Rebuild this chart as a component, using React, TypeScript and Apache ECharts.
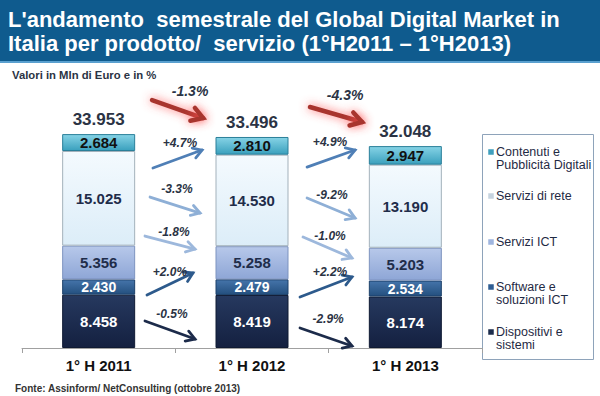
import React, { useEffect, useRef } from "react";
import * as echarts from "echarts";

const categories = ["1° H 2011", "1° H 2012", "1° H 2013"];
const dispositivi = [8458, 8419, 8174];
const software = [2430, 2479, 2534];
const serviziICT = [5356, 5258, 5203];
const serviziRete = [15025, 14530, 13190];
const contenuti = [2684, 2810, 2947];
const totals = [33953, 33496, 32048];

const seriesNames = [
  "Dispositivi e sistemi",
  "Software e soluzioni ICT",
  "Servizi ICT",
  "Servizi di rete",
  "Contenuti e Pubblicità Digitali",
];
const legendLabels = [
  "Contenuti e\nPubblicità Digitali",
  "Servizi di rete",
  "Servizi ICT",
  "Software e\nsoluzioni ICT",
  "Dispositivi e\nsistemi",
];

// growth arrows: label, start [x, value], end [x, value], label anchor [x, value]
const arrowLabels = ["-1.3%", "-4.3%", "+4.7%", "-3.3%", "-1.8%", "+2.0%", "-0.5%", "+4.9%", "-9.2%", "-1.0%", "+2.2%", "-2.9%"];
const arrowKinds = ["total", "total", "c", "r", "i", "s", "d", "c", "r", "i", "s", "d"];
const arrowStart = [
  [0.348, 39360], [1.378, 38250],
  [0.354, 28570], [0.335, 23960], [0.302, 17770], [0.315, 8410], [0.302, 4290],
  [1.359, 28720], [1.359, 23800], [1.333, 17620], [1.313, 8090], [1.313, 3170],
];
const arrowEnd = [
  [0.681, 36500], [1.718, 35870],
  [0.674, 31420], [0.661, 21420], [0.628, 15710], [0.615, 11900], [0.628, 1430],
  [1.672, 31420], [1.672, 20630], [1.652, 14280], [1.652, 11270], [1.652, 320],
];
const arrowLabelAt = [
  [0.596, 40790], [1.607, 40150],
  [0.53, 32530], [0.511, 25230], [0.491, 18410], [0.465, 12060], [0.478, 5400],
  [1.509, 32690], [1.522, 24280], [1.509, 17770], [1.509, 12060], [1.496, 4600],
];

const FONT = "Liberation Sans, Arial, sans-serif";

const fmt = (n: number) => String(n).replace(/\B(?=(\d{3})+(?!\d))/g, ".");

const segColors = [
  { top: "#26395f", bot: "#142040", border: "#0f1a33", label: "#ffffff", legend: "#1c2c4c" },
  { top: "#4574aa", bot: "#24507f", border: "#1d416a", label: "#ffffff", legend: "#2f5d93" },
  { top: "#b7c8ea", bot: "#8ea6d6", border: "#7d93bf", label: "#1f2d4a", legend: "#9fb5df" },
  { top: "#f4fafe", bot: "#dcedf8", border: "#a3b1bb", label: "#1f2d4a", legend: "#c6d3df" },
  { top: "#86d3e6", bot: "#3aa0bd", border: "#2a7f99", label: "#111111", legend: "#3f9fbd" },
];

const arrowStyle: Record<string, { color: string; width: number; glow: boolean }> = {
  total: { color: "#a8362f", width: 4.5, glow: true },
  c: { color: "#4f7fb6", width: 2.8, glow: false },
  r: { color: "#8eafd6", width: 2.8, glow: false },
  i: { color: "#9db8dc", width: 2.8, glow: false },
  s: { color: "#2d5a8c", width: 2.8, glow: false },
  d: { color: "#1c2b4a", width: 2.8, glow: false },
};

export default function App() {
  const ref = useRef<HTMLDivElement>(null);
  useEffect(() => {
    if (!ref.current) return;
    const chart = echarts.init(ref.current, undefined, { renderer: "svg" });
    const dataSets = [dispositivi, software, serviziICT, serviziRete, contenuti];

    const barSeries: any[] = dataSets.map((d, k) => ({
      name: seriesNames[k],
      type: "bar",
      stack: "tot",
      barWidth: 73,
      data: d,
      itemStyle: {
        color: new echarts.graphic.LinearGradient(0, 0, 0, 1, [
          { offset: 0, color: segColors[k].top },
          { offset: 1, color: segColors[k].bot },
        ]),
        borderColor: segColors[k].border,
        borderWidth: 1,
      },
      label: {
        show: true,
        position: "inside",
        formatter: (p: any) => fmt(p.value),
        color: segColors[k].label,
        fontFamily: FONT,
        fontWeight: "bold",
        fontSize: k === 1 ? 14 : 15,
      },
    }));

    barSeries.push({
      name: "Totale",
      type: "bar",
      stack: "tot",
      barWidth: 73,
      data: totals.map(() => 0),
      itemStyle: { color: "transparent" },
      label: {
        show: true,
        position: "top",
        distance: 6,
        formatter: (p: any) => fmt(totals[p.dataIndex]),
        color: "#2b3344",
        fontFamily: FONT,
        fontWeight: "bold",
        fontSize: 17,
      },
    });

    const arrowData = arrowLabels.map((_, i) => [
      arrowStart[i][0], arrowStart[i][1],
      arrowEnd[i][0], arrowEnd[i][1],
      arrowLabelAt[i][0], arrowLabelAt[i][1],
    ]);

    barSeries.push({
      type: "custom",
      xAxisIndex: 1,
      yAxisIndex: 0,
      clip: false,
      silent: true,
      encode: { x: [0, 2, 4], y: [1, 3, 5] },
      data: arrowData,
      renderItem: (params: any, api: any) => {
        const i = params.dataIndex;
        const st = arrowStyle[arrowKinds[i]];
        const p1 = api.coord([api.value(0), api.value(1)]);
        const p2 = api.coord([api.value(2), api.value(3)]);
        const pl = api.coord([api.value(4), api.value(5)]);
        const ang = Math.atan2(p2[1] - p1[1], p2[0] - p1[0]);
        const hl = st.glow ? 13 : 10;
        const spread = 0.55;
        const w1 = [p2[0] - hl * Math.cos(ang - spread), p2[1] - hl * Math.sin(ang - spread)];
        const w2 = [p2[0] - hl * Math.cos(ang + spread), p2[1] - hl * Math.sin(ang + spread)];
        const glow = st.glow
          ? { shadowBlur: 10, shadowColor: "rgba(255,80,80,0.85)" }
          : {};
        return {
          type: "group",
          children: [
            {
              type: "line",
              shape: { x1: p1[0], y1: p1[1], x2: p2[0], y2: p2[1] },
              style: { stroke: st.color, lineWidth: st.width, lineCap: "round", ...glow },
            },
            {
              type: "polyline",
              shape: { points: [w1, p2, w2] },
              style: { stroke: st.color, lineWidth: st.width, fill: null, lineCap: "round", lineJoin: "miter", ...glow },
            },
            {
              type: "text",
              x: pl[0],
              y: pl[1],
              style: {
                text: arrowLabels[i],
                fill: "#2b3344",
                fontFamily: FONT,
                fontStyle: "italic",
                fontWeight: "bold",
                fontSize: st.glow ? 14 : 12,
                align: "center",
                verticalAlign: "middle",
              },
            },
          ],
        };
      },
    });

    // legend (drawn as graphic, colors from series palette)
    const legendTop = [152, 196, 242, 287, 332];
    const legendOrder = [4, 3, 2, 1, 0];
    const legendChildren: any[] = [
      {
        type: "rect",
        shape: { x: 482.5, y: 134.5, width: 111, height: 225 },
        style: { fill: "#ffffff", stroke: "#8ea3ba", lineWidth: 1 },
      },
    ];
    legendOrder.forEach((k, j) => {
      legendChildren.push({
        type: "rect",
        shape: { x: 488, y: legendTop[j] - 3, width: 6, height: 6 },
        style: { fill: segColors[k].legend, stroke: "#ffffff", lineWidth: 0.5 },
      });
      legendChildren.push({
        type: "text",
        x: 496,
        y: legendTop[j] - 7,
        style: {
          text: legendLabels[j],
          fill: "#1f2a44",
          fontFamily: FONT,
          fontSize: 12.5,
          lineHeight: 13,
          verticalAlign: "top",
        },
      });
    });

    chart.setOption({
      animation: false,
      backgroundColor: "#ffffff",
      grid: { left: 22, right: 118, top: 96, bottom: 48, containLabel: false },
      xAxis: [
        {
          type: "category",
          data: categories,
          axisLine: { show: true, lineStyle: { color: "#a0a0a0", width: 1 } },
          axisTick: { show: true, length: 5, lineStyle: { color: "#a0a0a0" } },
          axisLabel: {
            color: "#111111",
            fontFamily: FONT,
            fontWeight: "bold",
            fontSize: 15,
            margin: 10,
          },
        },
        { type: "value", min: -0.5, max: 2.5, show: false },
      ],
      yAxis: {
        type: "value",
        min: 0,
        max: 40000,
        show: false,
        splitLine: { show: false },
      },
      series: barSeries,
      graphic: [
        { type: "rect", shape: { x: 0, y: 0, width: 600, height: 61 }, style: { fill: "#0f5b8e" } },
        { type: "rect", shape: { x: 0, y: 61, width: 600, height: 2 }, style: { fill: "#5aa0cf" } },
        {
          type: "text",
          x: 8,
          y: 7,
          style: {
            text: "L'andamento  semestrale del Global Digital Market in\nItalia per prodotto/  servizio (1°H2011 – 1°H2013)",
            fill: "#ffffff",
            fontFamily: FONT,
            fontWeight: "bold",
            fontSize: 22,
            lineHeight: 24,
            verticalAlign: "top",
          },
        },
        {
          type: "text",
          x: 12,
          y: 69,
          style: {
            text: "Valori in Mln di Euro e in %",
            fill: "#2b3344",
            fontFamily: FONT,
            fontWeight: "bold",
            fontSize: 11.3,
            verticalAlign: "top",
          },
        },
        {
          type: "text",
          x: 15,
          y: 383,
          style: {
            text: "Fonte: Assinform/ NetConsulting (ottobre 2013)",
            fill: "#333333",
            fontFamily: FONT,
            fontWeight: "bold",
            fontSize: 10,
            verticalAlign: "top",
          },
        },
        { type: "group", children: legendChildren },
      ],
    });
    return () => chart.dispose();
  }, []);
  return <div ref={ref} style={{ width: 600, height: 396, position: "absolute", left: 0, top: 0 }} />;
}
